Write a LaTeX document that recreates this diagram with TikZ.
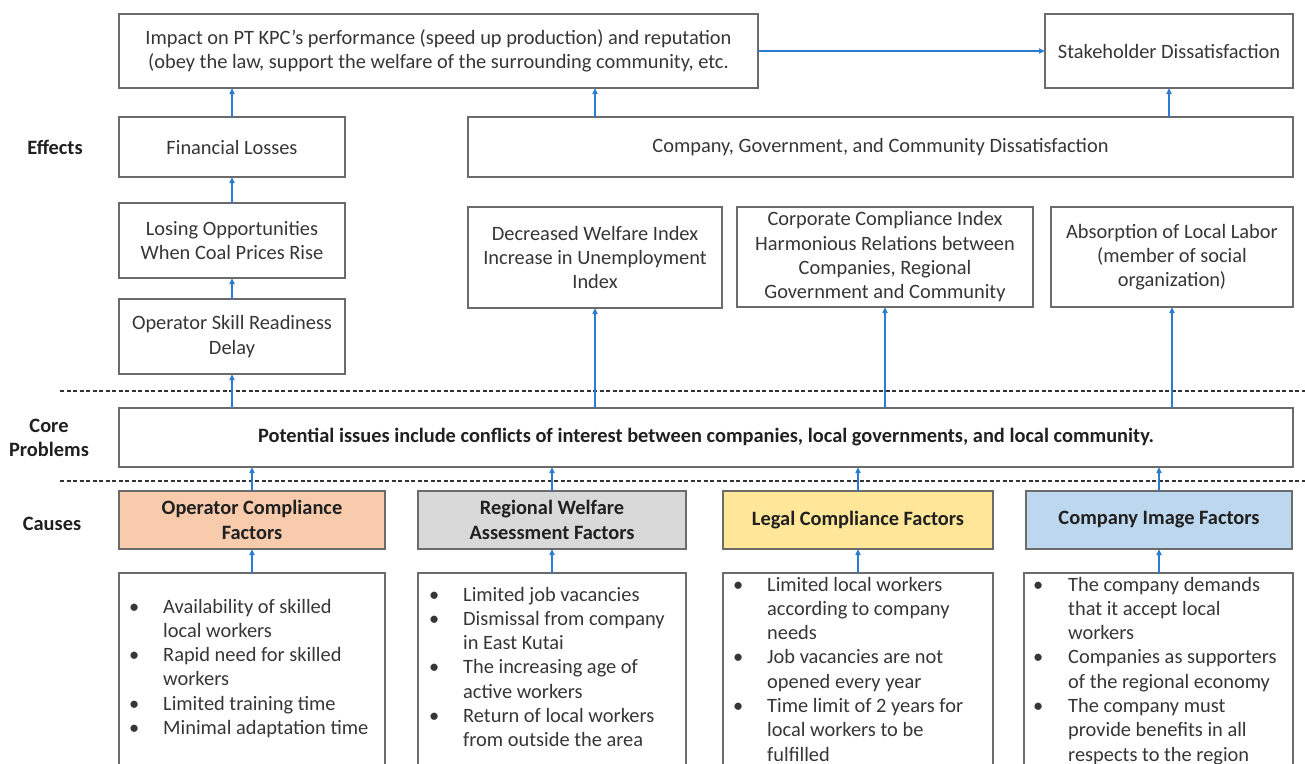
\documentclass[tikz,border=0pt]{standalone}
\usepackage{fontspec}
\setmainfont{Carlito}
\usetikzlibrary{arrows.meta}
\definecolor{edge}{HTML}{6B6B6B}
\definecolor{ink}{HTML}{363636}
\definecolor{deep}{HTML}{202020}
\definecolor{link}{HTML}{2B7BD0}
\definecolor{peach}{HTML}{F8CBAD}
\definecolor{greyfill}{HTML}{D9D9D9}
\definecolor{sand}{HTML}{FFE699}
\definecolor{sky}{HTML}{BDD7EE}
\newcommand{\txtsize}{\fontsize{20.4}{24.3}\selectfont}
\begin{document}
\begin{tikzpicture}[x=1pt, y=-1pt,
  font=\txtsize,
  box/.style={draw=edge, line width=1.4pt, fill=white, text=ink, align=center,
    inner sep=0pt, outer sep=0pt, anchor=north west},
  factor/.style={box, text=deep, font=\txtsize\bfseries},
  rowlabel/.style={text=deep, align=center, font=\txtsize\bfseries},
  arr/.style={draw=link, line width=1.8pt, -{Triangle[length=6pt,width=5pt]}},
  sepline/.style={draw=black!80, line width=1.3pt, dash pattern=on 4pt off 2.5pt},
  blist/.style={anchor=base west, inner sep=0pt, text=ink, align=left}]
\useasboundingbox (0,0) rectangle (1305,763);
\clip (0,0) rectangle (1305,763);
\fill[white] (0,0) rectangle (1305,763);

% row labels
\node[rowlabel] (lblEff) at (55,147) {Effects};
\node[rowlabel] (lblCore) at (49,438) {Core\\Problems};
\node[rowlabel] (lblCause) at (52,524) {Causes};

% effects
\node[box, minimum width=639pt, minimum height=74pt] (imp) at (119,14)
  {Impact on PT KPC’s performance (speed up production) and reputation\\(obey the law, support the welfare of the surrounding community, etc.};
\node[box, minimum width=248pt, minimum height=74pt] (sh) at (1045,14) {Stakeholder Dissatisfaction};
\node[box, minimum width=226pt, minimum height=60pt] (fin) at (119,117) {Financial Losses};
\node[box, minimum width=825pt, minimum height=60pt] (cg) at (468,117) {Company, Government, and Community Dissatisfaction};
\node[box, minimum width=226pt, minimum height=75pt] (lose) at (119,203) {Losing Opportunities\\When Coal Prices Rise};
\node[box, minimum width=226pt, minimum height=75pt] (opsk) at (119,299) {Operator Skill Readiness\\Delay};
\node[box, minimum width=254pt, minimum height=101pt] (dw) at (468,207) {Decreased Welfare Index\\Increase in Unemployment\\Index};
\node[box, minimum width=296pt, minimum height=100pt] (cc) at (737,207) {Corporate Compliance Index\\Harmonious Relations between\\Companies, Regional\\Government and Community};
\node[box, minimum width=242pt, minimum height=100pt] (abs) at (1051,207) {Absorption of Local Labor\\(member of social\\organization)};

% separators
\draw[sepline] (60,391) -- (1305,391);
\draw[sepline] (60,481) -- (1305,481);

% core problem
\node[box, minimum width=1174pt, minimum height=59pt, text=deep, font=\txtsize\bfseries] (core) at (119,408)
  {Potential issues include conflicts of interest between companies, local governments, and local community.};

% causes
\node[factor, fill=peach, minimum width=266pt, minimum height=58pt] (c1) at (119,491) {Operator Compliance\\Factors};
\node[factor, fill=greyfill, minimum width=268pt, minimum height=58pt] (c2) at (418,491) {Regional Welfare\\Assessment Factors};
\node[factor, fill=sand, minimum width=270pt, minimum height=58pt] (c3) at (723,491) {Legal Compliance Factors};
\node[factor, fill=sky, minimum width=266pt, minimum height=58pt] (c4) at (1026,491) {Company Image Factors};

% detail boxes
\node[box, minimum width=266pt, minimum height=230pt] (b1) at (119,573) {};
\node[box, minimum width=268pt, minimum height=230pt] (b2) at (418,573) {};
\node[box, minimum width=270pt, minimum height=230pt] (b3) at (723,573) {};
\node[box, minimum width=269pt, minimum height=230pt] (b4) at (1024,573) {};

\node[blist] (t1) at (129,613) {\begin{tabular}[t]{@{}p{34pt}@{}l@{}}
•& Availability of skilled\\ & local workers\\
•& Rapid need for skilled\\ & workers\\
•& Limited training time\\
•& Minimal adaptation time\end{tabular}};
\node[blist] (t2) at (429,601) {\begin{tabular}[t]{@{}p{34pt}@{}l@{}}
•& Limited job vacancies\\
•& Dismissal from company\\ & in East Kutai\\
•& The increasing age of\\ & active workers\\
•& Return of local workers\\ & from outside the area\end{tabular}};
\node[blist] (t3) at (733,591) {\begin{tabular}[t]{@{}p{34pt}@{}l@{}}
•& Limited local workers\\ & according to company\\ & needs\\
•& Job vacancies are not\\ & opened every year\\
•& Time limit of 2 years for\\ & local workers to be\\ & fulfilled\end{tabular}};
\node[blist] (t4) at (1033,591) {\begin{tabular}[t]{@{}p{35pt}@{}l@{}}
•& The company demands\\ & that it accept local\\ & workers\\
•& Companies as supporters\\ & of the regional economy\\
•& The company must\\ & provide benefits in all\\ & respects to the region\end{tabular}};

% connectors
\draw[arr] (imp.east) -- (sh.west);
\draw[arr] (fin.north) -- (imp.south -| fin.north);
\draw[arr] (cg.north -| dw.north) -- (imp.south -| dw.north);
\draw[arr] (cg.north -| sh.south) -- (sh.south);
\draw[arr] (lose.north) -- (fin.south);
\draw[arr] (opsk.north) -- (lose.south);
\draw[arr] (core.north -| opsk.south) -- (opsk.south);
\draw[arr] (core.north -| dw.south) -- (dw.south);
\draw[arr] (core.north -| cc.south) -- (cc.south);
\draw[arr] (core.north -| abs.south) -- (abs.south);
\draw[arr] (c1.north) -- (core.south -| c1.north);
\draw[arr] (c2.north) -- (core.south -| c2.north);
\draw[arr] (c3.north) -- (core.south -| c3.north);
\draw[arr] (c4.north) -- (core.south -| c4.north);
\draw[arr] (b1.north -| c1.south) -- (c1.south);
\draw[arr] (b2.north -| c2.south) -- (c2.south);
\draw[arr] (b3.north -| c3.south) -- (c3.south);
\draw[arr] (b4.north -| c4.south) -- (c4.south);
\end{tikzpicture}
\end{document}
